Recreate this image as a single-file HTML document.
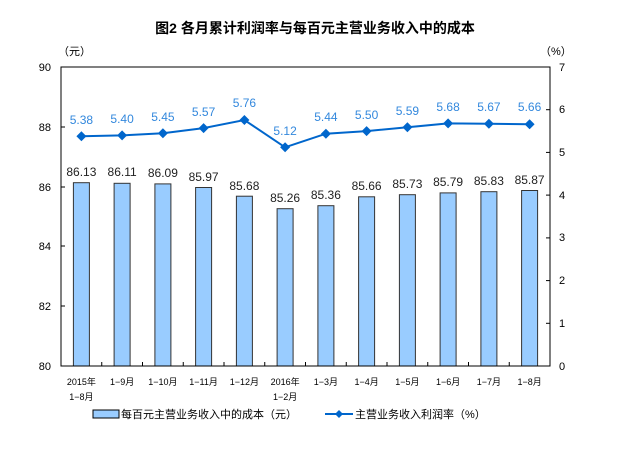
<!DOCTYPE html>
<html><head><meta charset="utf-8"><style>
body{margin:0;background:#fff}
svg{font-family:"Liberation Sans","Noto Sans CJK SC",sans-serif}
</style></head><body>
<svg width="630" height="457" viewBox="0 0 630 457" xmlns="http://www.w3.org/2000/svg">
<text x="315" y="33" text-anchor="middle" font-size="14" font-weight="bold" fill="#000">图2  各月累计利润率与每百元主营业务收入中的成本</text>
<text x="58" y="55" font-size="11" fill="#000">（元）</text>
<text x="540" y="55" font-size="11" fill="#000">（%）</text>
<g font-size="11" fill="#000" text-anchor="end">
<text x="51" y="71">90</text><text x="51" y="131">88</text><text x="51" y="191">86</text><text x="51" y="250">84</text><text x="51" y="310">82</text><text x="51" y="370">80</text>
</g>
<g font-size="11" fill="#000">
<text x="559" y="71">7</text><text x="559" y="113">6</text><text x="559" y="156">5</text><text x="559" y="199">4</text><text x="559" y="241">3</text><text x="559" y="284">2</text><text x="559" y="327">1</text><text x="559" y="370">0</text>
</g>
<g fill="#99ccff" stroke="#333" stroke-width="1">
<rect x="73.4" y="182.7" width="16" height="183.3"/>
<rect x="114.1" y="183.3" width="16" height="182.7"/>
<rect x="154.9" y="183.9" width="16" height="182.1"/>
<rect x="195.6" y="187.5" width="16" height="178.5"/>
<rect x="236.4" y="196.2" width="16" height="169.8"/>
<rect x="277.1" y="208.7" width="16" height="157.3"/>
<rect x="317.9" y="205.7" width="16" height="160.3"/>
<rect x="358.6" y="196.8" width="16" height="169.2"/>
<rect x="399.4" y="194.7" width="16" height="171.3"/>
<rect x="440.1" y="192.9" width="16" height="173.1"/>
<rect x="480.9" y="191.7" width="16" height="174.3"/>
<rect x="521.6" y="190.5" width="16" height="175.5"/>
</g>
<rect x="61" y="67" width="489" height="299" fill="none" stroke="#000" stroke-width="1"/>
<g stroke="#000" stroke-width="1">
<line x1="61" y1="127" x2="65" y2="127"/><line x1="61" y1="187" x2="65" y2="187"/><line x1="61" y1="246" x2="65" y2="246"/><line x1="61" y1="306" x2="65" y2="306"/>
<line x1="546" y1="109.7" x2="550" y2="109.7"/><line x1="546" y1="152.4" x2="550" y2="152.4"/><line x1="546" y1="195.1" x2="550" y2="195.1"/><line x1="546" y1="237.9" x2="550" y2="237.9"/><line x1="546" y1="280.6" x2="550" y2="280.6"/><line x1="546" y1="323.3" x2="550" y2="323.3"/>
<line x1="101.75" y1="366" x2="101.75" y2="362"/><line x1="142.5" y1="366" x2="142.5" y2="362"/><line x1="183.25" y1="366" x2="183.25" y2="362"/><line x1="224" y1="366" x2="224" y2="362"/><line x1="264.75" y1="366" x2="264.75" y2="362"/><line x1="305.5" y1="366" x2="305.5" y2="362"/><line x1="346.25" y1="366" x2="346.25" y2="362"/><line x1="387" y1="366" x2="387" y2="362"/><line x1="427.75" y1="366" x2="427.75" y2="362"/><line x1="468.5" y1="366" x2="468.5" y2="362"/><line x1="509.25" y1="366" x2="509.25" y2="362"/>
</g>
<g font-size="12" fill="#222" text-anchor="middle">
<text x="81.4" y="176">86.13</text><text x="122.1" y="176">86.11</text><text x="162.9" y="177">86.09</text><text x="203.6" y="181">85.97</text><text x="244.4" y="190">85.68</text><text x="285.1" y="202">85.26</text><text x="325.9" y="199">85.36</text><text x="366.6" y="190">85.66</text><text x="407.4" y="188">85.73</text><text x="448.1" y="186">85.79</text><text x="488.9" y="185">85.83</text><text x="529.6" y="184">85.87</text>
</g>
<polyline fill="none" stroke="#0066cc" stroke-width="2" points="81.4,136.2 122.1,135.4 162.9,133.2 203.6,128.1 244.4,120 285.1,147.3 325.9,133.7 366.6,131.1 407.4,127.3 448.1,123.4 488.9,123.8 529.6,124.3"/>
<g fill="#0066cc">
<path d="M81.4 131.2l5 5-5 5-5-5z"/><path d="M122.1 130.4l5 5-5 5-5-5z"/><path d="M162.9 128.2l5 5-5 5-5-5z"/><path d="M203.6 123.1l5 5-5 5-5-5z"/><path d="M244.4 115l5 5-5 5-5-5z"/><path d="M285.1 142.3l5 5-5 5-5-5z"/><path d="M325.9 128.7l5 5-5 5-5-5z"/><path d="M366.6 126.1l5 5-5 5-5-5z"/><path d="M407.4 122.3l5 5-5 5-5-5z"/><path d="M448.1 118.4l5 5-5 5-5-5z"/><path d="M488.9 118.8l5 5-5 5-5-5z"/><path d="M529.6 119.3l5 5-5 5-5-5z"/>
</g>
<g font-size="12" fill="#3388dd" text-anchor="middle">
<text x="81.4" y="124">5.38</text><text x="122.1" y="123">5.40</text><text x="162.9" y="121">5.45</text><text x="203.6" y="116">5.57</text><text x="244.4" y="107">5.76</text><text x="285.1" y="135">5.12</text><text x="325.9" y="121">5.44</text><text x="366.6" y="119">5.50</text><text x="407.4" y="115">5.59</text><text x="448.1" y="111">5.68</text><text x="488.9" y="111">5.67</text><text x="529.6" y="111">5.66</text>
</g>
<g font-size="9" fill="#000" text-anchor="middle">
<text x="81.4" y="385">2015年</text><text x="81.4" y="400">1−8月</text>
<text x="122.1" y="385">1−9月</text><text x="162.9" y="385">1−10月</text><text x="203.6" y="385">1−11月</text><text x="244.4" y="385">1−12月</text>
<text x="285.1" y="385">2016年</text><text x="285.1" y="400">1−2月</text>
<text x="325.9" y="385">1−3月</text><text x="366.6" y="385">1−4月</text><text x="407.4" y="385">1−5月</text><text x="448.1" y="385">1−6月</text><text x="488.9" y="385">1−7月</text><text x="529.6" y="385">1−8月</text>
</g>
<rect x="93" y="410" width="26" height="8" fill="#99ccff" stroke="#000" stroke-width="1"/>
<text x="121" y="418" font-size="11" fill="#000">每百元主营业务收入中的成本（元）</text>
<line x1="325" y1="414" x2="353" y2="414" stroke="#0066cc" stroke-width="2"/>
<path d="M339 410l4 4-4 4-4-4z" fill="#0066cc"/>
<text x="355" y="418" font-size="11" fill="#000">主营业务收入利润率（%）</text>
</svg>
</body></html>
